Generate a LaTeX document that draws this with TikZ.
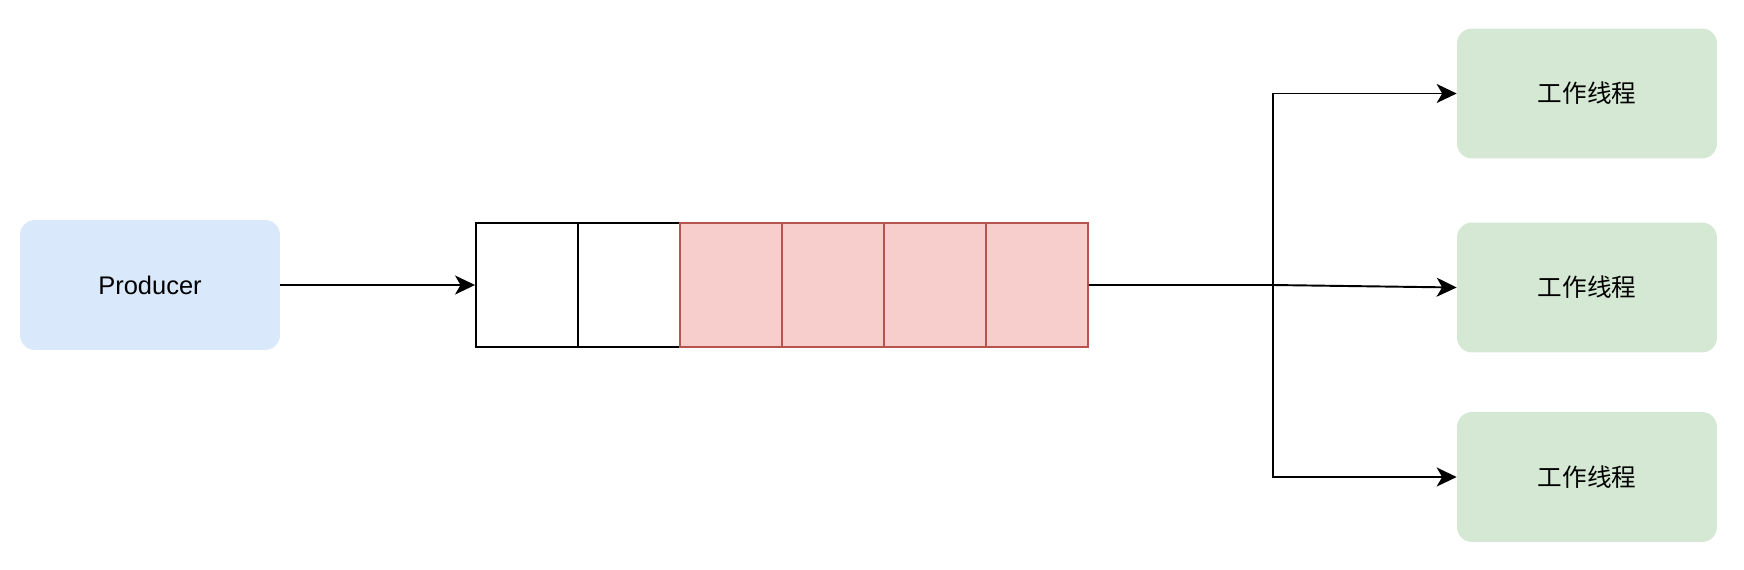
\documentclass[tikz,border=0pt]{standalone}
\usepackage{fontspec}
\setmainfont{Liberation Sans}
\newfontfamily\cjk{Noto Sans CJK SC}
\usetikzlibrary{positioning, calc, arrows.meta}
\definecolor{prodblue}{HTML}{DAE8FC}
\definecolor{workgreen}{HTML}{D5E8D4}
\definecolor{qfill}{HTML}{F8CECC}
\definecolor{qdraw}{HTML}{B85450}

\begin{document}
\begin{tikzpicture}[x=0.02cm, y=-0.02cm,
  box/.style={rounded corners=0.3cm, minimum width=5.2cm, minimum height=2.6cm, inner sep=0pt},
  cellbox/.style={draw, line width=1.1pt, minimum width=2.04cm, minimum height=2.48cm, inner sep=0pt},
  arr/.style={line width=1.1pt, -{Stealth[length=0.4cm, width=0.38cm, inset=0.11cm]}}]
\useasboundingbox (0,0) rectangle (1744,569);

% 生產者
\node[box, fill=prodblue, font=\fontsize{14.5}{17}\selectfont] (prod) at (150,285) {Producer};

% 佇列
\foreach \i in {1,2} {
  \node[cellbox] (cell\i) at ({476+102*(\i-0.5)},285) {};
}
\foreach \i in {3,...,6} {
  \node[cellbox, draw=qdraw, fill=qfill] (cell\i) at ({476+102*(\i-0.5)},285) {};
}

% 工作線程
\node[box, fill=workgreen, font=\cjk\fontsize{14}{17}\selectfont] (wk1) at (1587,93.5) {工作线程};
\node[box, fill=workgreen, font=\cjk\fontsize{14}{17}\selectfont] (wk2) at (1587,287.5) {工作线程};
\node[box, fill=workgreen, font=\cjk\fontsize{14}{17}\selectfont] (wk3) at (1587,477) {工作线程};

\coordinate (split) at (1273,285);

\draw[arr] (prod.east) -- (cell1.west);
\draw[arr] (cell6.east) -- (split) -- (wk2.west);
\draw[arr] (split) |- (wk1.west);
\draw[arr] (split) |- (wk3.west);

\end{tikzpicture}
\end{document}
